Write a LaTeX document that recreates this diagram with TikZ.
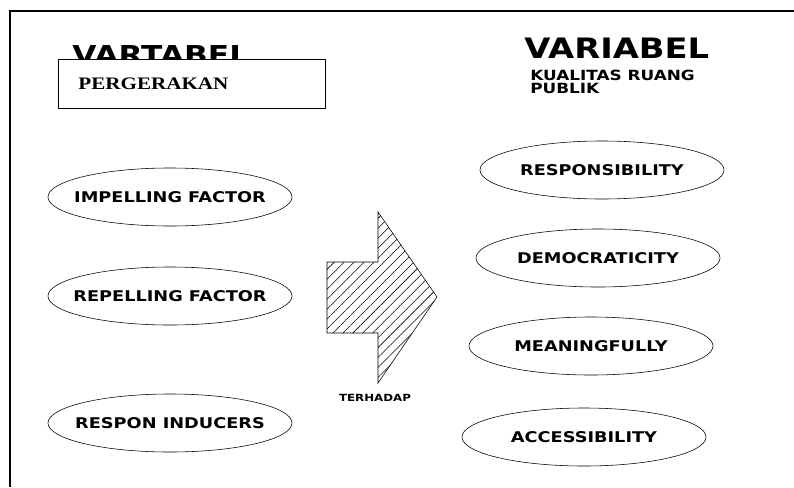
\documentclass[tikz,border=0pt]{standalone}
\usepackage{fontspec}
\usepackage{tikz}
\usetikzlibrary{shapes,patterns,patterns.meta,positioning}
\newfontfamily\labfont{DejaVu Sans Bold}[FakeStretch=1.2]
\newfontfamily\boxfont{Liberation Serif Bold}[FakeStretch=1.2]
\newcommand\vlab[1]{\makebox[0pt]{#1}}

\begin{document}
\begin{tikzpicture}[x=0.025cm,y=-0.025cm,
    varellipse/.style={draw,ellipse,thin,minimum width=6.1cm,minimum height=1.45cm,inner sep=0pt,
      font=\labfont\fontsize{10.5}{12}\selectfont},
    vartitle/.style={anchor=base west,inner sep=0pt,font=\labfont\fontsize{20}{22}\selectfont},
    subtitle/.style={anchor=base west,inner sep=0pt,font=\labfont\fontsize{10}{12}\selectfont}]
  \useasboundingbox (0,0) rectangle (794,487);
  % frame
  \draw[line width=1.4pt] (10,487) -- (10,11) -- (794,11);
  % left title and box
  \node[vartitle,font=\labfont\fontsize{18.5}{22}\selectfont] (vartabel) at (72,64) {VARTABEL};
  \node[draw,semithick,fill=white,anchor=north west,minimum width=6.675cm,minimum height=1.225cm,
        text width=5.675cm,inner xsep=0.5cm,align=left,font=\boxfont\fontsize{12.5}{14}\selectfont]
        (pergerakan) at (58,59) {PERGERAKAN};
  % right title
  \node[vartitle] (variabel) at (524,58) {VARIABEL};
  \node[subtitle] (kualitas) at (530,80) {KUALITAS RUANG};
  \node[subtitle] (publik) at ([yshift=-0.34cm]kualitas.base west) {PUBLIK};
  % left ellipses
  \node[varellipse] (impelling) at (170,197) {\vlab{IMPELLING FACTOR}};
  \node[varellipse] (repelling) at (170,296) {\vlab{REPELLING FACTOR}};
  \node[varellipse] (respon) at (170,423) {\vlab{RESPON INDUCERS}};
  % right ellipses
  \node[varellipse] (responsibility) at (602,170) {\vlab{RESPONSIBILITY}};
  \node[varellipse] (democraticity) at (598,258) {\vlab{DEMOCRATICITY}};
  \node[varellipse] (meaningfully) at (591,346) {\vlab{MEANINGFULLY}};
  \node[varellipse] (accessibility) at (584,437) {\vlab{ACCESSIBILITY}};
  % big arrow
  \draw[thin,pattern={Lines[angle=45,distance=5pt,line width=0.4pt]}]
    (327,262) -- (378,262) -- (378,212) -- (437,297) -- (378,383) -- (378,333) -- (327,333) -- cycle;
  \node[inner sep=0pt,font=\labfont\fontsize{7}{8}\selectfont] (terhadap) at (375,398) {TERHADAP};
\end{tikzpicture}
\end{document}
